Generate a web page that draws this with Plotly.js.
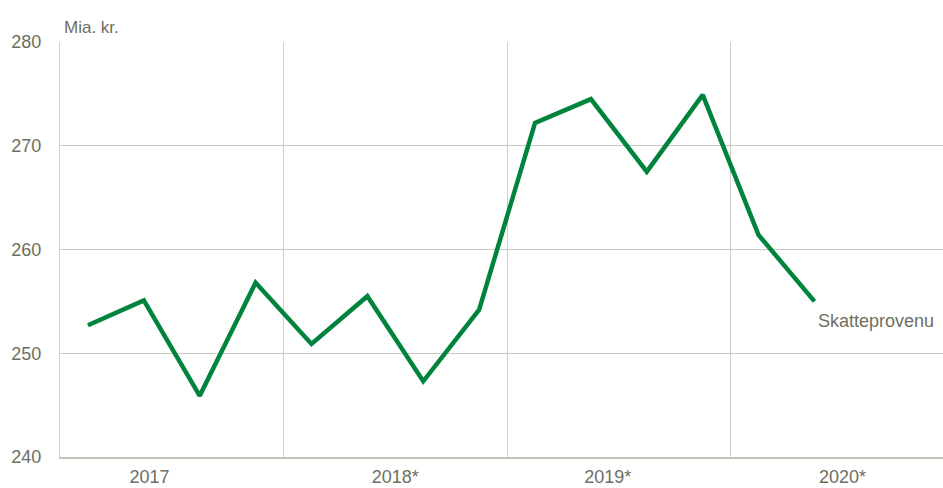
<!DOCTYPE html>
<html><head><meta charset="utf-8">
<script src="https://cdn.plot.ly/plotly-3.0.1.min.js"></script>
<style>html,body{margin:0;padding:0;background:#fff}#chart{width:943px;height:488px}</style>
</head><body><div id="chart"></div>
<script>
const quarters = ['2017K1','2017K2','2017K3','2017K4','2018K1','2018K2','2018K3','2018K4','2019K1','2019K2','2019K3','2019K4','2020K1','2020K2'];
const skatteprovenu = [252.7,255.1,245.9,256.8,250.9,255.5,247.3,254.2,272.2,274.5,267.5,274.9,261.4,255.0];
const yearLabels = ['2017','2018*','2019*','2020*'];
const yearLabelPos = [1.1,5.5,9.3,13.5];
const yearSeparators = [3.5,7.5,11.5];
const yTicks = [240,250,260,270,280];

const xIdx = quarters.map((q,i)=>i);
const font = {family:'"Liberation Sans Narrow","Arial Narrow","Liberation Sans",sans-serif', color:'#6e6e5f', size:18};

const trace = {x:xIdx, y:skatteprovenu, type:'scatter', mode:'lines', line:{color:'#00843d', width:4.5}, hoverinfo:'skip'};

const layout = {
  width:943, height:488,
  margin:{l:60, r:0, t:42, b:31},
  paper_bgcolor:'#fff', plot_bgcolor:'#fff',
  showlegend:false,
  font:font,
  xaxis:{range:[-0.5,15.3], tickmode:'array', tickvals:yearLabelPos, ticktext:yearLabels, showgrid:false, zeroline:false,
    ticks:'', tickfont:font, showline:true, linecolor:'#c3c3ba', linewidth:2, ticklabelstandoff:2,
    minor:{tickmode:'array', tickvals:yearSeparators, showgrid:true, gridcolor:'#cfcfcf', gridwidth:1, ticks:''}},
  yaxis:{range:[240,280], tickmode:'array', tickvals:yTicks, showgrid:true, gridcolor:'#c9c9c2', gridwidth:1, zeroline:false,
    ticks:'', tickfont:font, showline:true, linecolor:'#cfcfcf', linewidth:1, ticklabelstandoff:14},
  annotations:[
    {xref:'paper', yref:'paper', x:0.002, y:1.0, yshift:3, xanchor:'left', yanchor:'bottom', text:'Mia. kr.', showarrow:false, font:{...font, size:17}},
    {xref:'x', yref:'y', x:skatteprovenu.length-1, y:skatteprovenu[skatteprovenu.length-1], xanchor:'left', yanchor:'top', xshift:2, yshift:-8, text:'Skatteprovenu', showarrow:false, font:{...font, size:18}}
  ]
};
Plotly.newPlot('chart',[trace],layout,{staticPlot:true});
</script></body></html>
